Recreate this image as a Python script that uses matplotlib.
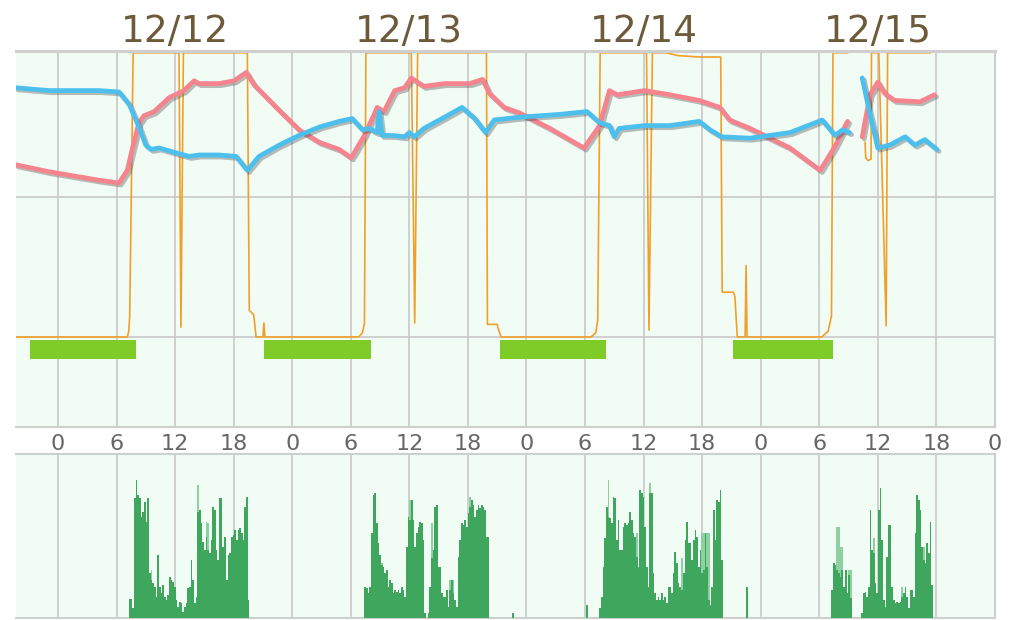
import numpy as np
import matplotlib
matplotlib.use("Agg")
import matplotlib.pyplot as plt
from matplotlib import patheffects as pe

# x values are hours counted from 12/11 00:00

# blue trace (top panel)
blue_h = [-4.3, -0.9, 2.15, 4.2, 6.25, 7.3, 8.3, 9.0, 9.55, 10.35, 12.4, 13.45, 14.45, 16.5,
          18.25, 19.4, 20.6, 22.65, 24.7, 26.8, 28.8, 30.15, 31.2, 31.9, 32.7, 32.9, 33.2,
          34.25, 35.5, 36.0, 36.5, 37.5, 39.6, 41.4, 42.7, 43.8, 44.7, 47.3, 51.4, 54.2,
          55.5, 56.5, 57.0, 57.5, 60.1, 62.7, 65.7, 66.8, 68.0, 70.9, 75.0, 78.3, 79.6,
          80.4, 81.1, np.nan, 82.4, 83.2, 84.0, 85.2, 86.8, 87.8, 88.8, 90.05]
blue_v = [178, 176, 176, 176, 175, 166, 150, 137, 134, 135, 131, 129, 130, 130,
          129, 119, 129, 137, 144, 150, 154, 156, 148, 149, 146, 161, 144,
          144, 143, 146, 143, 149, 157, 164, 156, 146, 155, 157, 159, 161,
          153, 151, 143, 149, 151, 151, 154, 148, 143, 142, 146, 155, 144,
          148, 146, np.nan, 185, 159, 135, 137, 143, 137, 141, 134]

# pink trace (top panel)
red_h = [-4.3, -0.9, 4.2, 6.25, 7.1, 7.6, 8.3, 8.8, 9.85, 11.4, 12.9, 13.95, 14.45, 16.5,
         18.05, 19.3, 20.1, 21.1, 22.65, 24.7, 26.8, 28.8, 30.05, 31.4, 32.4, 32.7, 33.4,
         34.5, 35.5, 36.2, 37.5, 39.6, 42.2, 43.5, 44.2, 45.7, 47.3, 50.4, 53.9, 55.5,
         56.5, 57.3, 60.1, 62.7, 65.7, 67.8, 68.8, 70.9, 75.0, 78.1, 79.6, 80.9, np.nan,
         82.4, 83.2, 84.0, 84.7, 85.7, 88.3, 89.8]
red_v = [123, 118, 112, 110, 119, 134, 153, 158, 161, 171, 176, 183, 181, 181,
         183, 189, 180, 173, 162, 148, 139, 134, 128, 144, 159, 164, 161,
         176, 178, 185, 179, 181, 181, 184, 174, 164, 160, 149, 135, 151,
         176, 173, 176, 173, 169, 164, 155, 149, 135, 119, 136, 154, np.nan,
         143, 173, 182, 174, 169, 168, 173]

# orange light trace (top panel)
lux_h = [-4.3, 7.1, 7.25, 7.35, 7.7, 12.4, 12.6, 12.85, 19.4, 19.6, 20.05, 20.3, 21.0, 21.1,
         21.2, 30.8, 31.2, 31.4, 31.55, 36.2, 36.55, 36.85, 43.9, 44.0, 45.0, 45.1, 45.4,
         54.6, 55.1, 55.3, 55.55, 60.3, 60.55, 60.9, 62.3, 63.5, 65.7, 67.9, 68.05, 69.2,
         69.35, 69.6, 70.4, 70.5, 70.6, 78.25, 78.9, 79.25, 79.4, 80.9, np.nan, 82.7,
         82.75, 83.0, 83.3, 83.35, 84.1, 84.85, 85.0, 89.4]
lux_v = [0, 0, 4, 15, 203, 203, 7, 203, 203, 19, 16, 0, 0, 10,
         0, 0, 3, 10, 203, 203, 10, 203, 203, 9, 9, 6, 0,
         0, 3, 12, 203, 203, 5, 203, 203, 201, 200, 200, 32, 32,
         29, 0, 0, 51, 0, 0, 4, 15, 203, 203, np.nan, 139,
         128, 126, 127, 203, 203, 8, 203, 203]

# sleep bars
night_start = [-2.85, 21.15, 45.25, 69.2]
night_end = [8.0, 32.1, 56.1, 79.4]

# activity counts (bottom panel), ~10 min bins
BIN_H = 0.171
act_start = [7.28, 31.38, 55.47, 79.25, 82.3]
act_dark = [
    [19, 19, 10, 120, 138, 123, 120, 101, 106, 116, 96, 120, 45, 38, 35, 31, 21, 63, 31, 25,
     33, 21, 18, 23, 41, 38, 36, 31, 18, 11, 16, 15, 6, 11, 15, 30, 31, 58, 38, 15,
     21, 106, 108, 95, 76, 68, 81, 68, 65, 78, 111, 108, 68, 58, 120, 120, 71, 81, 38, 63,
     65, 81, 83, 88, 78, 88, 90, 85, 78, 111, 121, 18],
    [31, 30, 25, 31, 85, 123, 125, 95, 75, 63, 53, 51, 45, 48, 31, 38, 35, 25, 28, 26,
     28, 25, 31, 28, 21, 71, 101, 98, 118, 98, 71, 85, 91, 96, 95, 78, 5, 0, 5, 31,
     60, 68, 111, 113, 51, 51, 25, 21, 21, 28, 11, 28, 38, 25, 18, 11, 61, 78, 95, 93,
     98, 91, 105, 111, 118, 113, 101, 108, 113, 110, 113, 111, 108, 81, 81],
    [10, 21, 51, 80, 111, 101, 100, 95, 121, 120, 78, 98, 68, 68, 91, 95, 93, 95, 106, 98,
     85, 81, 61, 51, 128, 125, 121, 91, 51, 31, 125, 125, 45, 25, 18, 21, 18, 25, 18, 21,
     15, 31, 31, 25, 45, 66, 55, 35, 31, 28, 45, 78, 96, 75, 75, 58, 78, 88, 81, 51,
     68, 45, 48, 85, 51, 18, 13, 31, 108, 78, 118, 116, 128, 58],
    [28, 55, 53, 48, 45, 41, 48, 31, 48, 25, 43, 20],
    [5, 25, 26, 21, 31, 108, 68, 65, 35, 25, 108, 130, 78, 18, 11, 61, 93, 93, 31, 18,
     15, 16, 15, 16, 21, 25, 31, 21, 10, 28, 28, 21, 85, 123, 118, 108, 71, 58, 55, 75,
     65, 96, 33],
]
# lighter (peak) bars where they stand above the dark ones: bin index -> height
act_light = [
    {13: 48, 41: 133, 46: 96, 47: 95},
    {10: 55, 27: 118, 40: 95, 51: 38, 52: 38, 53: 38, 63: 121},
    {5: 138, 22: 85, 30: 135, 49: 60, 61: 85, 62: 85, 64: 85, 65: 85},
    {3: 91, 4: 91, 5: 71, 6: 71, 8: 48, 10: 48, 11: 48},
    {7: 80, 24: 31, 37: 71},
]
stray_h = [46.5, 54.1, 70.5]
stray_v = [5, 13, 31]

day_labels = ["12/12", "12/13", "12/14", "12/15"]
day_label_h = [12, 36, 60, 84]
tick_hours = list(range(0, 97, 6))
tick_labels = ["0", "6", "12", "18"] * 4 + ["0"]

BG = "#f1fcf4"
GRID = "#c9c9c9"
SPINE = "#cfcfcf"

fig = plt.figure(figsize=(10.13, 6.2), dpi=100)
ax = fig.add_axes([0.0158, 0.3113, 0.9664, 0.6065])
ax2 = fig.add_axes([0.0158, 0.0032, 0.9664, 0.2645])

for a in (ax, ax2):
    a.set_facecolor(BG)
    a.set_xlim(-4.3, 96)
    a.set_xticks(tick_hours)
    a.grid(True, color=GRID, lw=1.2)
    a.set_axisbelow(True)
    a.spines["left"].set_visible(False)
    for s in ("top", "right", "bottom"):
        a.spines[s].set_color(SPINE)
        a.spines[s].set_linewidth(1.5)
    a.tick_params(length=0)

# --- top panel ---
ax.set_ylim(-64.3, 204.3)
ax.set_yticks([0, 100])
ax.set_yticklabels([])
ax.spines["top"].set_linewidth(2.2)
ax.set_xticklabels(tick_labels)
ax.tick_params(axis="x", pad=5, labelsize=16, labelcolor="#666666")

ax.plot(lux_h, lux_v, color="#f0a02a", lw=1.2, zorder=2, solid_joinstyle="round")

shadow = [pe.SimpleLineShadow(offset=(1.5, -1.5), shadow_color="#444444", alpha=0.35), pe.Normal()]
ax.plot(red_h, red_v, color="#f5848f", lw=3.4, zorder=3, path_effects=shadow,
        solid_capstyle="round", solid_joinstyle="round")
ax.plot(blue_h, blue_v, color="#4dbfec", lw=3.4, zorder=4, path_effects=shadow,
        solid_capstyle="round", solid_joinstyle="round")

ax.broken_barh([(s, e - s) for s, e in zip(night_start, night_end)], (-15.7, 13.6),
               facecolor="#7fcc28", zorder=2)

for lab, h in zip(day_labels, day_label_h):
    ax.text(h, 1.024, lab, transform=ax.get_xaxis_transform(), ha="center", va="baseline",
            fontsize=27, color="#6d5a3a")

# --- bottom panel ---
ax2.set_ylim(0, 164)
ax2.set_yticks([])
ax2.set_xticklabels([])
ax2.grid(True, axis="x", color=GRID, lw=1.2)

for start, dark, light in zip(act_start, act_dark, act_light):
    xs = start + BIN_H * np.arange(len(dark))
    li = sorted(light)
    ax2.bar(xs[li], [light[i] for i in li], width=BIN_H, align="edge",
            color="#8fd0a3", lw=0, zorder=2)
    ax2.bar(xs, dark, width=BIN_H, align="edge", color="#3fa75d", lw=0, zorder=3)
ax2.bar(stray_h, stray_v, width=BIN_H, align="edge", color="#3fa75d", lw=0, zorder=3)

fig.savefig("out.png", dpi=100)
